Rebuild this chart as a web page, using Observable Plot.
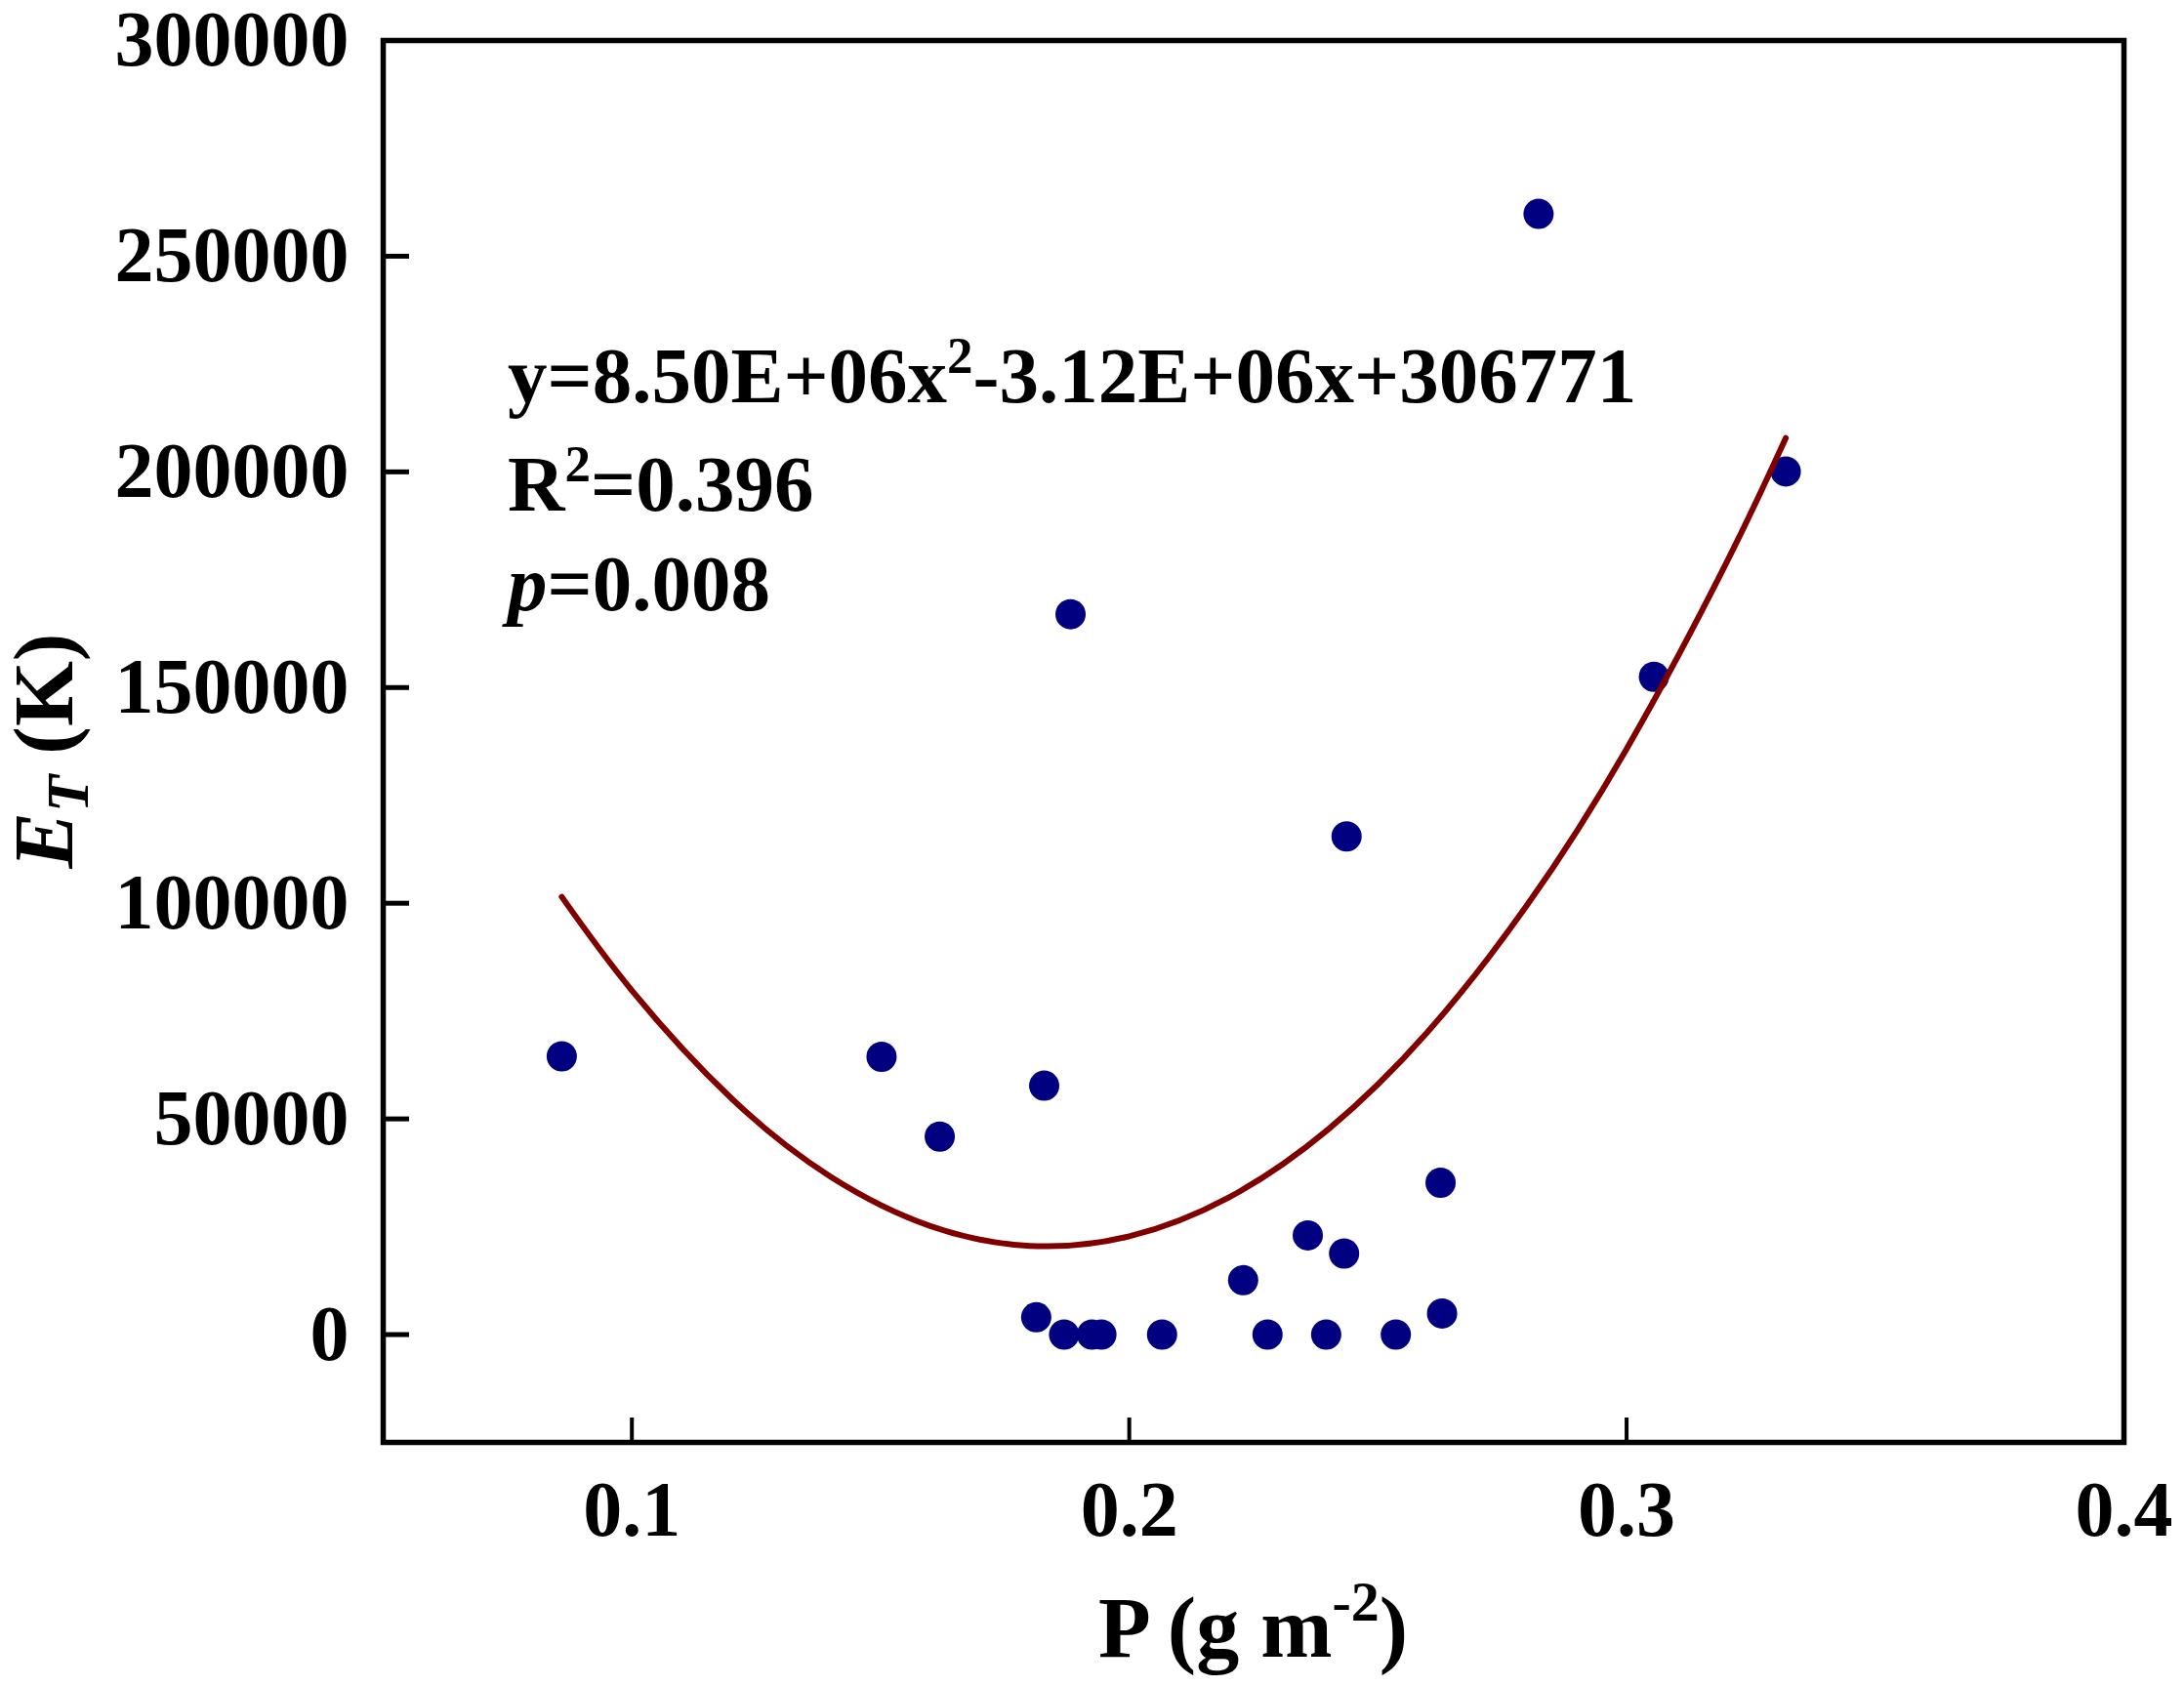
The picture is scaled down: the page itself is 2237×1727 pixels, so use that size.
<!DOCTYPE html>
<html>
<head>
<meta charset="utf-8">
<script src="https://cdn.jsdelivr.net/npm/d3@7"></script>
<script src="https://cdn.jsdelivr.net/npm/@observablehq/plot@0.6"></script>
<style>
  html, body { margin: 0; padding: 0; background: #ffffff; }
  #chart svg { display: block; }
</style>
</head>
<body>
<div id="chart"></div>
<script>
// Observed points: P (g m-2) vs E_T (K)
const pValues = [0.0859, 0.1502, 0.1619, 0.1829, 0.1882, 0.1813, 0.1869, 0.1925, 0.1944, 0.2066, 0.2229,
                 0.2278, 0.2359, 0.2396, 0.2432, 0.2437, 0.2536, 0.2626, 0.2629, 0.2823, 0.3055, 0.3320];
const etValues = [64500, 64400, 45900, 57700, 167000, 4000, 0, 0, 0, 0, 12600,
                  0, 23000, 0, 18800, 115500, 0, 35200, 4900, 259800, 152500, 200100];

// Fitted quadratic curve
const fitP = [0.0859, 0.10, 0.12, 0.14, 0.16, 0.18, 0.20, 0.22, 0.24, 0.26, 0.28, 0.30, 0.32, 0.332];
const fitET = [101483, 79771, 54771, 36571, 25171, 20571, 22771, 31771, 47571, 70171, 99571, 135771, 178771, 207835];

// Axis ticks
const xTicks = [0.1, 0.2, 0.3, 0.4];
const yTicks = [0, 50000, 100000, 150000, 200000, 250000, 300000];
const xDomain = [0.05, 0.4];
const yDomain = [-25000, 300000];

// Annotation texts
const eqText = ["y=8.50E+06x", "2", "-3.12E+06x+306771"];
const r2Text = ["R", "2", "=0.396"];
const pText = ["p", "=0.008"];

const points = pValues.map((p, i) => ({p, et: etValues[i]}));
const fit = fitP.map((p, i) => ({p, et: fitET[i]}));

const W = 2237, H = 1727;
const mL = 392, mR = 62, mT = 41, mB = 250;
const FONT = "'Liberation Serif', 'Times New Roman', serif";

const chart = Plot.plot({
  width: W,
  height: H,
  marginLeft: mL,
  marginRight: mR,
  marginTop: mT,
  marginBottom: mB,
  style: {background: "#ffffff", fontFamily: FONT, fontWeight: "bold", fontSize: "80px", color: "#000000", overflow: "visible"},
  x: {domain: xDomain},
  y: {domain: yDomain},
  marks: [
    Plot.dot(points, {x: "p", y: "et", r: 15.5, fill: "#000080", stroke: "none"}),
    Plot.line(fit, {x: "p", y: "et", stroke: "#800000", strokeWidth: 6, curve: "natural"}),
    Plot.frame({stroke: "#000000", strokeWidth: 5.5}),
    Plot.axisX({ticks: xTicks, tickSize: -25, fill: "none", stroke: "#000000", strokeWidth: 4, label: null}),
    Plot.axisY({ticks: yTicks, tickSize: -27, fill: "none", stroke: "#000000", strokeWidth: 5, label: null}),
    Plot.axisX({ticks: xTicks, tickSize: 0, tickPadding: 39, fill: "#000000", fontSize: 80, fontWeight: "bold",
                tickFormat: d => d.toFixed(1), label: null}),
    Plot.axisY({ticks: yTicks, tickSize: 0, tickPadding: 35, fill: "#000000", fontSize: 80, fontWeight: "bold",
                tickFormat: d => String(d), label: null})
  ]
});

document.getElementById("chart").appendChild(chart);

const svg = d3.select(chart);
const plotCx = mL + (W - mL - mR) / 2;
const plotCy = mT + (H - mT - mB) / 2;

// X axis title: P (g m^-2)
const xt = svg.append("text")
  .attr("x", plotCx).attr("y", 1697)
  .attr("text-anchor", "middle")
  .attr("font-family", FONT).attr("font-weight", "bold").attr("font-size", 88).attr("fill", "#000");
xt.append("tspan").text("P (g m");
xt.append("tspan").attr("font-size", 58).attr("dy", -37).text("-2");
xt.append("tspan").attr("dy", 37).text(")");

// Y axis title: E_T (K)
const yt = svg.append("text")
  .attr("transform", `translate(74,${plotCy + 10}) rotate(-90)`)
  .attr("text-anchor", "middle")
  .attr("font-family", FONT).attr("font-weight", "bold").attr("font-size", 86).attr("fill", "#000");
yt.append("tspan").attr("font-style", "italic").text("E");
yt.append("tspan").attr("font-style", "italic").attr("font-size", 62).attr("dy", 16).text("T");
yt.append("tspan").attr("dy", -16).text(" (K)");

// Annotation block
const annX = mL + 128;
function annLine(y) {
  return svg.append("text").attr("x", annX).attr("y", y)
    .attr("text-anchor", "start")
    .attr("font-family", FONT).attr("font-weight", "bold").attr("font-size", 81).attr("fill", "#000");
}
const l1 = annLine(412);
l1.append("tspan").text(eqText[0]);
l1.append("tspan").attr("font-size", 53).attr("dy", -30).text(eqText[1]);
l1.append("tspan").attr("dy", 30).text(eqText[2]);

const l2 = annLine(523);
l2.append("tspan").text(r2Text[0]);
l2.append("tspan").attr("font-size", 53).attr("dy", -30).text(r2Text[1]);
l2.append("tspan").attr("dy", 30).text(r2Text[2]);

const l3 = annLine(625);
l3.append("tspan").attr("font-style", "italic").text(pText[0]);
l3.append("tspan").text(pText[1]);
</script>
</body>
</html>
